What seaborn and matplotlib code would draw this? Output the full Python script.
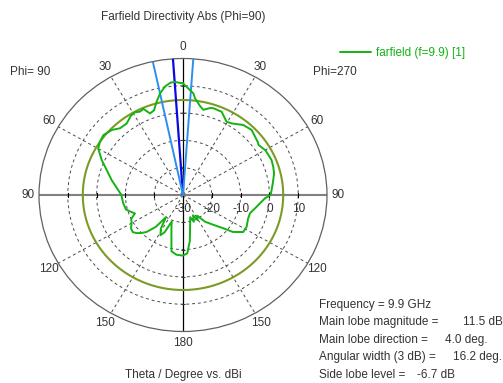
import numpy as np
import matplotlib
matplotlib.use("Agg")
import matplotlib.pyplot as plt
import seaborn as sns
import pandas as pd

# Farfield cut (Phi = 90 plane), theta measured counter-clockwise from the top
theta_deg = [0, 4, 6, 9, 12, 15, 18, 21, 23.5, 26, 29, 32, 36.7, 41.8, 46, 51.5,
             56, 60, 65.6, 71, 77.5, 85, 90, 98, 105, 108, 112, 116, 120, 124,
             128, 131, 134, 137, 141, 144, 148, 152, 155, 158, 162, 165, 169,
             174, 180, 184, 188, 193, 197, 201, 205, 209, 213, 218, 224, 229,
             232, 237, 242, 249, 254, 259, 263.5, 267.6, 270, 278, 284, 288.3,
             292.6, 294, 299.6, 305, 306.7, 315, 320.8, 327.2, 330.6, 336.2,
             341.7, 343.6, 347.3, 350, 353.3, 354.5, 356.4]
directivity_dbi = [10.9, 11.5, 11.4, 10.2, 8.1, 5.4, 2.6, 2.0, 4.4, 4.0, 4.6, 4.2,
                   2.7, 2.8, 4.3, 5.3, 4.8, 4.0, 1.0, -2.0, -4.6, -7.3, -8.6,
                   -9.0, -9.5, -10.6, -12.0, -10.0, -9.4, -8.2, -7.9, -8.7, -10.0,
                   -11.5, -15.0, -20.0, -15.5, -13.3, -15.0, -19.5, -17.0, -14.5,
                   -9.0, -8.0, -7.8, -8.6, -13.0, -19.0, -21.5, -19.5, -21.8,
                   -19.5, -21.0, -17.6, -14.8, -11.4, -8.0, -5.1, -5.0, -5.8,
                   -5.8, -4.5, -3.1, -1.5, 0.45, 1.5, 2.6, 3.0, 3.3, 3.2, 3.0,
                   2.0, 2.4, 3.7, 3.1, 1.2, 0.8, 3.3, 3.5, 3.2, 2.0, 3.3, 5.7,
                   7.4, 8.5]

frequency_ghz = 9.9
main_lobe_magnitude = 11.5
main_lobe_direction = 4.0
angular_width_3db = 16.2
side_lobe_level = -6.7

r_min, r_max = -30, 20
ring_values = [-20, -10, 0, 10]
radial_labels = [-30, -20, -10, 0, 10]
angle_ticks = list(range(0, 360, 30))
angle_labels = ["0", "30", "60", "90", "120", "150", "180",
                "150", "120", "90", "60", "30"]

sns.set_theme(style="white")
plt.rcParams["font.family"] = ["Liberation Sans", "DejaVu Sans"]
text_color = "#333333"
fs = 8.5

W, H = 503, 383
fig = plt.figure(figsize=(W / 100, H / 100), dpi=100)
fig.patch.set_facecolor("white")


def fx(x):
    return x / W


def fy(y):
    return 1 - y / H


ax = fig.add_axes([fx(39), 51.5 / H, 288 / W, 273 / H], projection="polar")
ax.set_theta_zero_location("N")
ax.set_theta_direction(1)
ax.set_aspect("auto")
ax.set_facecolor("white")
ax.set_rlim(r_min, r_max)
ax.set_rgrids(ring_values, labels=[""] * len(ring_values))
ax.set_thetagrids(angle_ticks, angle_labels, color=text_color, fontsize=fs)
ax.tick_params(axis="x", length=0, pad=1)
ax.tick_params(axis="y", length=0)
ax.grid(True, color="#4a4a4a", linestyle=(0, (3, 3)), linewidth=0.7)
ax.spines["polar"].set_color("#606060")
ax.spines["polar"].set_linewidth(0.9)

# principal axes through the origin
for a in (0, 180):
    ax.plot(np.deg2rad([a, a]), [r_min, r_max], color="black", lw=0.9, zorder=2)
for a in (90, 270):
    ax.plot(np.deg2rad([a, a]), [r_min, r_max], color="#808080", lw=1.5, zorder=2)
# small ticks on the axes at every ring
for a in (90, 270):
    ax.plot(np.deg2rad([a] * len(ring_values)), ring_values, ls="none",
            marker="|", ms=3.5, mew=0.8, color="black", zorder=3)
for a in (0, 180):
    ax.plot(np.deg2rad([a] * len(ring_values)), ring_values, ls="none",
            marker="_", ms=3, mew=0.7, color="#333333", zorder=3)

# side lobe level circle
sll_abs = main_lobe_magnitude + side_lobe_level
circ = np.deg2rad(np.arange(0, 361, 1))
ax.plot(circ, np.full_like(circ, sll_abs), color="#7b9b26", lw=1.5, zorder=3)

# main lobe direction and 3 dB beam edges
ax.plot(np.deg2rad([main_lobe_direction] * 2), [r_min, r_max],
        color="#0a0ae0", lw=1.6, zorder=4)
for edge in (main_lobe_direction - angular_width_3db / 2,
             main_lobe_direction + angular_width_3db / 2):
    ax.plot(np.deg2rad([edge] * 2), [r_min, r_max], color="#2b8ff0",
            lw=1.4, zorder=4)

# pattern
df = pd.DataFrame({
    "theta": np.deg2rad(theta_deg + [theta_deg[0] + 360]),
    "dbi": directivity_dbi + [directivity_dbi[0]],
})
sns.lineplot(data=df, x="theta", y="dbi", sort=False, estimator=None,
             color="#12b312", lw=1.4, ax=ax, zorder=5,
             label=f"farfield (f={frequency_ghz}) [1]")
ax.set_xlabel("")
ax.set_ylabel("")
ax.set_rlim(r_min, r_max)

for r in radial_labels:
    ax.annotate(f"{r}", xy=(np.deg2rad(270), r), xytext=(0, -6),
                textcoords="offset points", ha="center", va="top",
                fontsize=fs, color=text_color, zorder=6)

handles, labels = ax.get_legend_handles_labels()
ax.legend_.remove()
fig.legend(handles, labels, loc="center left",
           bbox_to_anchor=(fx(340), fy(53)), frameon=False, fontsize=fs,
           handlelength=2.6, handletextpad=0.45, borderpad=0, borderaxespad=0,
           labelcolor="linecolor")

fig.text(fx(183), fy(17), "Farfield Directivity Abs (Phi=90)", ha="center",
         va="center", fontsize=fs, color=text_color)
fig.text(fx(10), fy(72), "Phi= 90", ha="left", va="center", fontsize=fs,
         color=text_color)
fig.text(fx(313), fy(72), "Phi=270", ha="left", va="center", fontsize=fs,
         color=text_color)
fig.text(fx(183), fy(375), "Theta / Degree vs. dBi", ha="center", va="center",
         fontsize=fs, color=text_color)

info = [
    (305, f"Frequency = {frequency_ghz} GHz", None, None),
    (322, "Main lobe magnitude =", 463, f"{main_lobe_magnitude} dB"),
    (340, "Main lobe direction =", 445, f"{main_lobe_direction:.1f} deg."),
    (357, "Angular width (3 dB) =", 453, f"{angular_width_3db} deg."),
    (375, "Side lobe level =", 417, f"{side_lobe_level} dB"),
]
for y, left, xv, val in info:
    fig.text(fx(319), fy(y), left, ha="left", va="center", fontsize=fs,
             color=text_color)
    if val is not None:
        fig.text(fx(xv), fy(y), val, ha="left", va="center", fontsize=fs,
                 color=text_color)

fig.savefig("out.png", dpi=100, facecolor="white")
